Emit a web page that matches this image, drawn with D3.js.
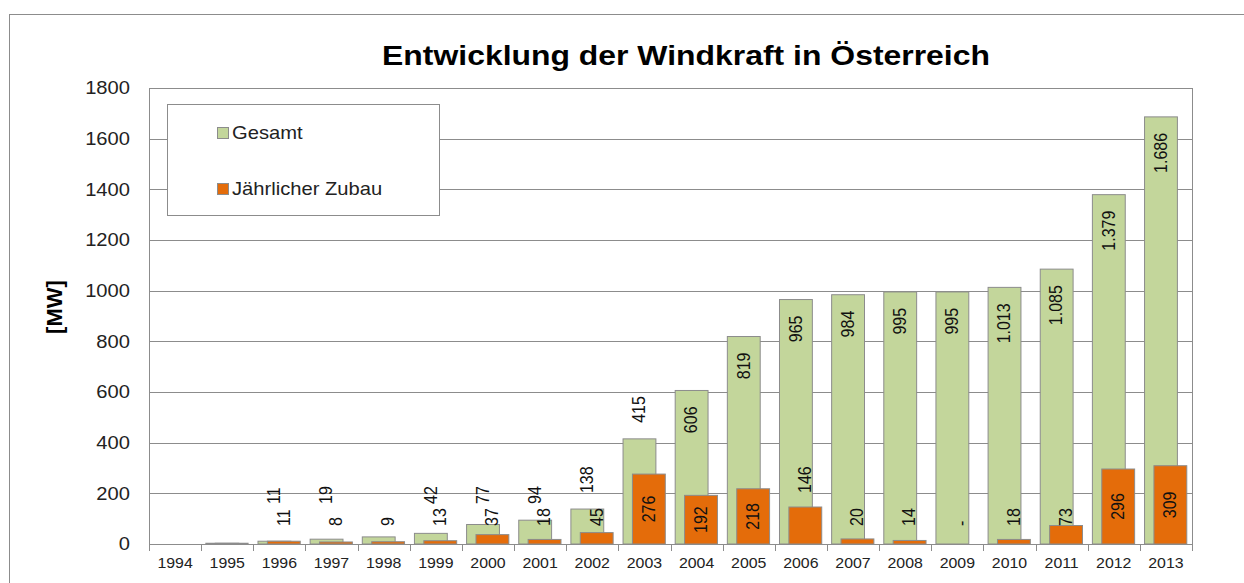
<!DOCTYPE html>
<html>
<head>
<meta charset="utf-8">
<script src="https://cdn.jsdelivr.net/npm/d3@7"></script>
<style>
  body { margin: 0; background: #fff; }
  svg { display: block; font-family: "Liberation Sans", Arial, sans-serif; }
</style>
</head>
<body>
<svg id="chart" width="1244" height="583"></svg>
<script>
const years = ["1994","1995","1996","1997","1998","1999","2000","2001","2002","2003",
               "2004","2005","2006","2007","2008","2009","2010","2011","2012","2013"];
const gesamt = [0, 3, 11, 19, 28, 42, 77, 94, 138, 415, 606, 819, 965, 984, 995, 995, 1013, 1085, 1379, 1686];
const zubau  = [0, 3, 11, 8, 9, 13, 37, 18, 45, 276, 192, 218, 146, 20, 14, 0, 18, 73, 296, 309];
const yTicks = [0, 200, 400, 600, 800, 1000, 1200, 1400, 1600, 1800];
const hiddenGesamtLabels = ["1994", "1995", "1998"];
const hiddenZubauLabels = ["1994", "1995"];

const green = "#c3d69b", orange = "#e46c0a", edge = "#8c8c8c";
const sx = 1.12; // the picture is a bit wide, stretch text to match

const svg = d3.select("#chart");
const de = d3.formatLocale({decimal: ",", thousands: ".", grouping: [3], currency: ["", "€"]});
const fmt = v => v === 0 ? "-" : de.format(",")(v);

const x = d3.scaleBand().domain(years).range([149, 1192]).padding(0);
const y = d3.scaleLinear().domain([0, 1800]).range([544, 88]);
const bw = x.bandwidth();

// outer frame
svg.append("rect").attr("x", 9.5).attr("y", 14.5).attr("width", 1260).attr("height", 600)
  .attr("fill", "none").attr("stroke", edge);

// title
svg.append("text")
  .attr("transform", `translate(686,65) scale(${sx},1)`)
  .attr("text-anchor", "middle").attr("font-size", 28.5).attr("font-weight", "bold")
  .text("Entwicklung der Windkraft in Österreich");

// gridlines
svg.append("g").selectAll("line").data(yTicks.slice(1)).join("line")
  .attr("x1", 149).attr("x2", 1192)
  .attr("y1", d => Math.round(y(d)) + 0.5).attr("y2", d => Math.round(y(d)) + 0.5)
  .attr("stroke", edge);
svg.append("line").attr("x1", 1192.5).attr("x2", 1192.5).attr("y1", 88).attr("y2", 545)
  .attr("stroke", edge);

// y axis labels
const yAxis = svg.append("g").attr("transform", "translate(149,0)")
  .call(d3.axisLeft(y).tickValues(yTicks).tickSize(0).tickPadding(19).tickFormat(d3.format("d")));
yAxis.select(".domain").remove();
yAxis.selectAll("text")
  .attr("font-size", 18).attr("fill", "#222").attr("font-family", null)
  .attr("transform", function () {
    const tx = +d3.select(this).attr("x");
    d3.select(this).attr("x", 0);
    return `translate(${tx},0) scale(${sx},1)`;
  });

svg.append("text")
  .attr("transform", "translate(54,307) rotate(-90)")
  .attr("text-anchor", "middle").attr("dominant-baseline", "central")
  .attr("font-size", 22).attr("font-weight", "bold").text("[MW]");

// bars
const idx = years.map((d, i) => i);
svg.append("g").selectAll("rect").data(idx.filter(i => gesamt[i] > 0)).join("rect")
  .attr("x", i => x(years[i]) + bw * 0.09).attr("width", bw * 0.63)
  .attr("y", i => y(gesamt[i])).attr("height", i => y(0) - y(gesamt[i]))
  .attr("fill", green).attr("stroke", edge).attr("stroke-width", 1);
svg.append("g").selectAll("rect").data(idx.filter(i => zubau[i] > 0)).join("rect")
  .attr("x", i => x(years[i]) + bw * 0.27).attr("width", bw * 0.63)
  .attr("y", i => y(zubau[i])).attr("height", i => y(0) - y(zubau[i]))
  .attr("fill", orange).attr("stroke", edge).attr("stroke-width", 1);

// x axis
svg.append("line").attr("x1", 149).attr("x2", 1192).attr("y1", 544.5).attr("y2", 544.5)
  .attr("stroke", edge);
svg.append("line").attr("x1", 149.5).attr("x2", 149.5).attr("y1", 88).attr("y2", 551)
  .attr("stroke", edge);
svg.append("g").selectAll("line").data(years.slice(1).map(x).concat([1192])).join("line")
  .attr("x1", d => Math.round(d) + 0.5).attr("x2", d => Math.round(d) + 0.5)
  .attr("y1", 544).attr("y2", 551).attr("stroke", edge);
const xAxis = svg.append("g").attr("transform", "translate(0,554)")
  .call(d3.axisBottom(x).tickSize(0).tickPadding(0));
xAxis.select(".domain").remove();
xAxis.selectAll("text")
  .attr("font-size", 15).attr("fill", "#222").attr("font-family", null)
  .attr("dy", "0.9em")
  .attr("transform", "scale(1.06,1)");

// data labels
function rotLabel(g, cx, cy, anchor, txt) {
  g.append("text")
    .attr("transform", `translate(${cx},${cy}) scale(${sx},1) rotate(-90)`)
    .attr("text-anchor", anchor).attr("dominant-baseline", "central")
    .attr("font-size", 16).attr("fill", "#111").text(txt);
}
const lab = svg.append("g");
idx.forEach(i => {
  const yr = years[i];
  if (!hiddenGesamtLabels.includes(yr)) {
    const cx = x(yr) + bw * 0.09 + bw * 0.315;
    const v = gesamt[i];
    if (v >= 500) rotLabel(lab, cx, y(v) + 16, "end", fmt(v));
    else rotLabel(lab, cx, Math.min(y(v) - 16, 504), "start", fmt(v));
  }
  if (!hiddenZubauLabels.includes(yr)) {
    const cx = x(yr) + bw * 0.27 + bw * 0.315;
    const v = zubau[i];
    if (v >= 180) rotLabel(lab, cx, (y(v) + y(0)) / 2, "middle", fmt(v));
    else if (v >= 100) rotLabel(lab, cx, y(v) - 14, "start", fmt(v));
    else rotLabel(lab, cx, y(0) - 18, "start", fmt(v));
  }
});

// legend
const lg = svg.append("g");
lg.append("rect").attr("x", 167.5).attr("y", 104.5).attr("width", 272).attr("height", 111)
  .attr("fill", "#fff").attr("stroke", edge);
const legendItems = [["Gesamt", green], ["Jährlicher Zubau", orange]];
legendItems.forEach(([name, col], k) => {
  const ly = 127 + k * 56;
  lg.append("rect").attr("x", 217.5).attr("y", ly + 0.5).attr("width", 11).attr("height", 11)
    .attr("fill", col).attr("stroke", edge);
  lg.append("text").attr("transform", `translate(232,${ly + 12}) scale(${sx},1)`)
    .attr("font-size", 18).attr("fill", "#222").text(name);
});
</script>
</body>
</html>
